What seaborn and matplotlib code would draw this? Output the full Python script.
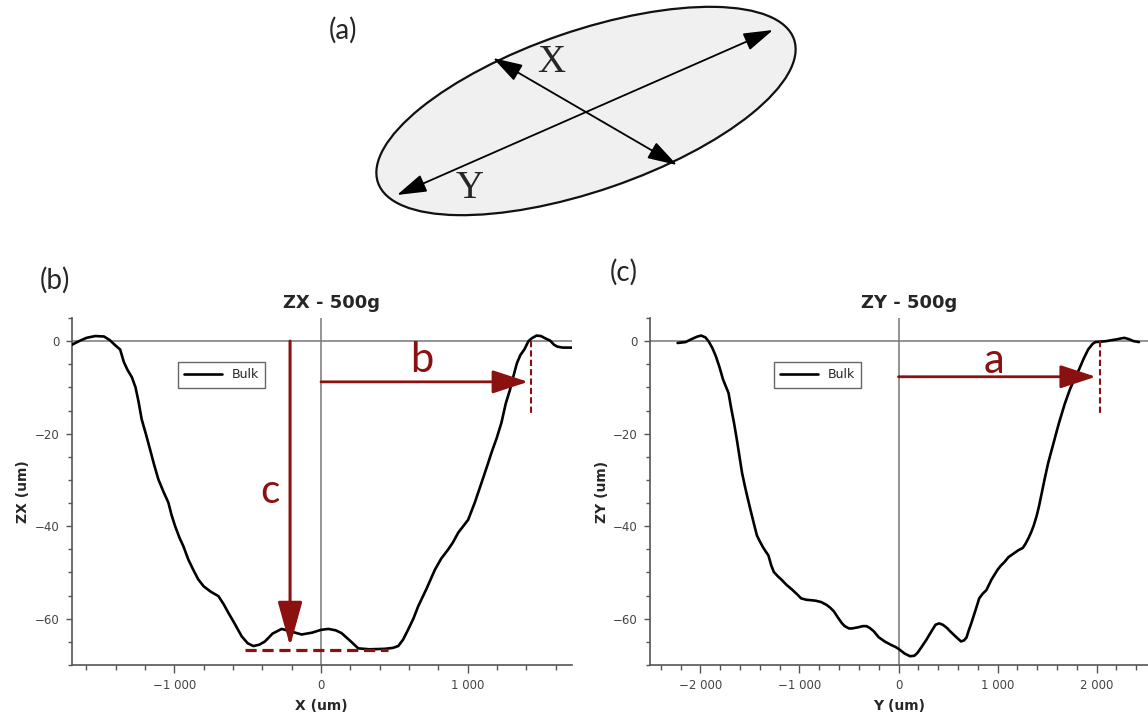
import matplotlib.pyplot as plt
import matplotlib.patches as mpatches
from matplotlib.ticker import MultipleLocator, FuncFormatter
import seaborn as sns
import pandas as pd

# ---- profile ZX (panel b) ----
zx_x = [-1700, -1650, -1600, -1540, -1480, -1440, -1400, -1370, -1345, -1320,
        -1290, -1265, -1245, -1223, -1195, -1166, -1140, -1109, -1075, -1041,
        -1020, -995, -965, -939, -905, -870, -837, -800, -750, -700,
        -665, -632, -590, -541, -500, -461, -420, -382, -330, -268,
        -200, -132, -60, 0, 50, 100, 140, 200, 254, 330,
        436, 490, 527, 560, 595, 630, 663, 720, 777, 820,
        868, 900, 936, 970, 1004, 1050, 1095, 1130, 1163, 1200,
        1231, 1260, 1290, 1313, 1337, 1360, 1387, 1415, 1437, 1470,
        1500, 1530, 1563, 1590, 1613, 1650, 1710]
zx_z = [-0.8, 0.0, 0.7, 1.1, 1.0, 0.2, -1.0, -1.8, -4.5, -6.2,
        -7.8, -10.0, -13.0, -16.9, -20.0, -23.4, -26.5, -29.9, -32.5, -34.9,
        -37.5, -40.0, -42.5, -44.3, -47.2, -49.5, -51.5, -53.0, -54.2, -55.1,
        -56.8, -58.7, -61.0, -63.8, -65.3, -65.9, -65.6, -64.9, -63.2, -62.2,
        -62.8, -63.4, -63.0, -62.4, -62.2, -62.5, -63.1, -64.8, -66.4, -66.6,
        -66.5, -66.3, -65.9, -64.5, -62.3, -60.0, -57.3, -53.5, -49.4, -47.0,
        -45.0, -43.5, -41.4, -40.0, -38.6, -34.8, -30.6, -27.3, -24.1, -20.8,
        -17.6, -13.5, -10.4, -7.5, -4.7, -3.0, -1.8, 0.0, 0.6, 1.2,
        1.1, 0.6, 0.1, -0.8, -1.2, -1.4, -1.4]

# ---- profile ZY (panel c) ----
zy_y = [-2231, -2150, -2084, -2030, -1993, -1950, -1919, -1880, -1846, -1810,
        -1772, -1740, -1717, -1690, -1662, -1635, -1607, -1580, -1552, -1525,
        -1497, -1460, -1430, -1405, -1370, -1340, -1314, -1285, -1259, -1220,
        -1180, -1130, -1080, -1030, -983, -930, -880, -837, -780, -727,
        -690, -653, -610, -570, -543, -500, -470, -420, -360, -323,
        -290, -250, -200, -140, -80, -30, 7, 60, 117, 160,
        191, 230, 283, 330, 374, 410, 448, 490, 521, 570,
        631, 660, 686, 710, 741, 780, 815, 850, 888, 940,
        998, 1030, 1072, 1110, 1163, 1210, 1255, 1280, 1310, 1340,
        1365, 1395, 1420, 1450, 1475, 1512, 1560, 1600, 1622, 1680,
        1732, 1780, 1824, 1870, 1916, 1960, 1989, 2050, 2099, 2150,
        2209, 2250, 2283, 2330, 2374, 2429]
zy_z = [-0.4, -0.2, 0.5, 1.0, 1.2, 0.8, 0.0, -1.5, -3.2, -5.5,
        -8.3, -10.0, -11.2, -14.5, -17.6, -21.0, -24.8, -28.5, -31.3, -33.8,
        -36.3, -39.5, -42.0, -43.1, -44.5, -45.5, -46.3, -48.5, -49.9, -50.8,
        -51.6, -52.7, -53.6, -54.6, -55.6, -55.9, -56.0, -56.1, -56.4, -57.0,
        -57.6, -58.4, -59.8, -61.0, -61.6, -62.1, -62.1, -61.9, -61.6, -61.6,
        -62.0, -62.7, -64.0, -64.9, -65.6, -66.1, -66.6, -67.5, -68.1, -68.0,
        -67.4, -66.2, -64.5, -62.8, -61.3, -61.0, -61.3, -62.0, -62.7, -63.7,
        -64.9, -64.7, -64.1, -62.5, -60.6, -58.0, -55.6, -54.6, -53.8, -51.5,
        -49.5, -48.6, -47.7, -46.7, -45.9, -45.2, -44.7, -43.9, -42.7, -41.3,
        -39.9, -37.8, -35.6, -32.5, -29.9, -26.3, -22.5, -19.3, -17.6, -13.5,
        -10.4, -8.0, -6.1, -3.8, -1.8, -0.6, -0.2, -0.1, 0.0, 0.2,
        0.4, 0.6, 0.7, 0.4, 0.0, -0.2]

# measured dimensions marked on the profiles
half_width_b = 1432   # dashed end mark on ZX
half_width_a = 2033   # dashed end mark on ZY
depth_c = -66.7
c_pos = -211

RED = '#8b1010'
GRAY = '#555555'

sns.set_style("ticks")
plt.rcParams['font.family'] = ['DejaVu Sans']

fig = plt.figure(figsize=(11.48, 7.17), dpi=100)


def thousands(v, pos):
    s = f"{abs(int(round(v))):,}".replace(",", " ")
    return ("\u2212" + s) if v < 0 else s


def profile(ax, xs, zs, xlim, title, xlabel, ylabel, leg_x):
    df = pd.DataFrame({'pos': xs, 'z': zs})
    ax.axhline(0, color='#777777', lw=1.1, zorder=1)
    ax.axvline(0, color='#777777', lw=1.1, zorder=1)
    sns.lineplot(data=df, x='pos', y='z', sort=False, color='black',
                 lw=1.9, label='Bulk', ax=ax, zorder=3)
    ax.set_xlim(*xlim)
    ax.set_ylim(-70, 5)
    ax.xaxis.set_major_locator(MultipleLocator(1000))
    ax.xaxis.set_minor_locator(MultipleLocator(200))
    ax.yaxis.set_major_locator(MultipleLocator(20))
    ax.yaxis.set_minor_locator(MultipleLocator(5))
    ax.xaxis.set_major_formatter(FuncFormatter(thousands))
    ax.yaxis.set_major_formatter(FuncFormatter(thousands))
    ax.tick_params(axis='x', which='major', length=6, width=1, color=GRAY,
                   labelsize=8.5, labelcolor='#444444', pad=4)
    ax.tick_params(axis='x', which='minor', length=3.5, width=1, color=GRAY)
    ax.tick_params(axis='y', which='major', length=4, width=1, color=GRAY,
                   labelsize=8.5, labelcolor='#444444', pad=5)
    ax.tick_params(axis='y', which='minor', length=3, width=1, color=GRAY)
    for side in ['top', 'right']:
        ax.spines[side].set_visible(False)
    for side in ['left', 'bottom']:
        ax.spines[side].set_color(GRAY)
        ax.spines[side].set_linewidth(1.2)
    ax.set_title(title, fontsize=13, fontweight='bold', pad=7, x=0.52)
    ax.set_xlabel(xlabel, fontsize=10, fontweight='bold', labelpad=5)
    ax.set_ylabel(ylabel, fontsize=10, fontweight='bold', labelpad=3)
    ax.legend(loc='upper left', bbox_to_anchor=(leg_x, 0.873), frameon=True,
              fancybox=False, edgecolor='#666666', framealpha=1, fontsize=9,
              handlelength=3.0, handletextpad=0.8, borderpad=0.5,
              borderaxespad=0)


def arrow(ax, tail, tip, hl, hw, ms, lw):
    ax.annotate("", xy=tip, xytext=tail, zorder=5,
                arrowprops=dict(arrowstyle=f"-|>,head_length={hl},head_width={hw}",
                                mutation_scale=ms, color=RED, lw=lw,
                                shrinkA=0, shrinkB=0))


ax_b = fig.add_axes([0.0625, 0.0725, 0.4355, 0.484])
profile(ax_b, zx_x, zx_z, (-1700, 1710), 'ZX - 500g', 'X (um)', 'ZX (um)', 0.213)
ax_b.plot([half_width_b, half_width_b], [0, -16.2], color=RED, lw=1.5,
          ls=(0, (3, 1.5)), zorder=4)
arrow(ax_b, (0, -8.8), (half_width_b - 20, -8.8), 1.1, 0.36, 20, 2)
ax_b.text(690, -4.0, 'b', color=RED, fontsize=30, family='Lato',
          ha='center', va='center')
ax_b.plot([-518, 457], [depth_c, depth_c], color=RED, lw=2.3,
          ls=(0, (3.5, 1.8)), zorder=4)
arrow(ax_b, (c_pos, 0), (c_pos, -65.9), 1.37, 0.38, 20, 2.2)
ax_b.text(-348, -32.6, 'c', color=RED, fontsize=29, family='Lato',
          ha='center', va='center')

ax_c = fig.add_axes([0.5662, 0.0725, 0.4338, 0.484])
profile(ax_c, zy_y, zy_z, (-2510, 2520), 'ZY - 500g', 'Y (um)', 'ZY (um)', 0.249)
ax_c.plot([half_width_a, half_width_a], [0, -15.5], color=RED, lw=1.5,
          ls=(0, (3, 1.5)), zorder=4)
arrow(ax_c, (0, -7.7), (half_width_a - 40, -7.7), 1.1, 0.36, 20, 2)
ax_c.text(965, -4.2, 'a', color=RED, fontsize=30, family='Lato',
          ha='center', va='center')

# ---- schematic (a): indentation ellipse, drawn in pixel space ----
ell_center = (586, 111)
ell_width, ell_height, ell_angle = 440, 160, -19
long_axis = [(397, 195), (773, 30)]
short_axis = [(493, 58), (677, 165)]

ax_a = fig.add_axes([0, 1 - 240 / 717, 1, 240 / 717])
ax_a.set_xlim(0, 1148)
ax_a.set_ylim(240, 0)
ax_a.axis('off')
ax_a.add_patch(mpatches.Ellipse(ell_center, ell_width, ell_height, angle=ell_angle,
                                facecolor='#f0f0f0', edgecolor='#111111', lw=1.6))
for p0, p1 in [long_axis, short_axis]:
    ax_a.annotate("", xy=p1, xytext=p0,
                  arrowprops=dict(arrowstyle="<|-|>,head_length=1.3,head_width=0.4",
                                  mutation_scale=14, color='black', lw=1.3,
                                  shrinkA=0, shrinkB=0))
ax_a.text(551, 62, 'X', fontsize=28, family='Liberation Serif', ha='center', va='center')
ax_a.text(470, 188, 'Y', fontsize=28, family='Liberation Serif', ha='center', va='center')

fig.text(343 / 1148, 1 - 30 / 717, '(a)', fontsize=20, family='Lato', ha='center', va='center')
fig.text(55 / 1148, 1 - 280 / 717, '(b)', fontsize=20, family='Lato', ha='center', va='center')
fig.text(624 / 1148, 1 - 272 / 717, '(c)', fontsize=20, family='Lato', ha='center', va='center')

fig.savefig('out.png', dpi=100)
